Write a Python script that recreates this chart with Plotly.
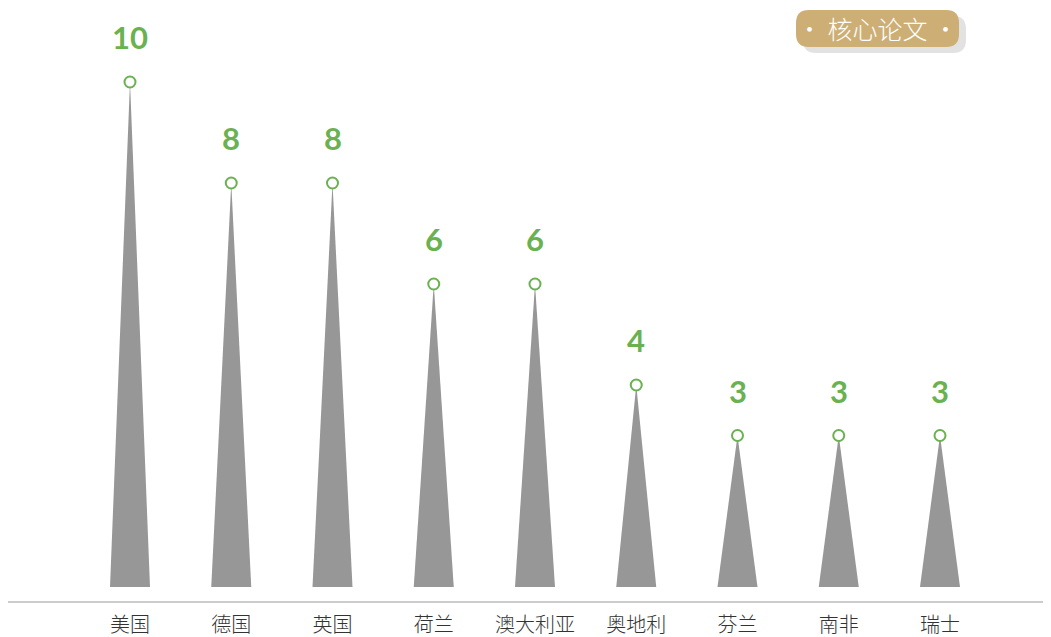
import plotly.graph_objects as go

categories = ["美国", "德国", "英国", "荷兰", "澳大利亚", "奥地利", "芬兰", "南非", "瑞士"]
values = [10, 8, 8, 6, 6, 4, 3, 3, 3]
badge_text = "· 核心论文 ·"

GREEN = "#6ab150"
GRAY = "#979797"
TAN = "#cdae75"

OFF = 8  # page body margin offset
W, H = 1051 - OFF, 637 - OFF
# target page pixels: plot left 8, right 1050, axis line 601
ML = 8 - OFF
MR = W - (1050 - OFF)
MT = 0
MB = H - (601 - OFF)
pw, ph = W - ML - MR, H - MT - MB
x_unit = 101.25
y_unit = 50.5
x_range = [-122 / x_unit, -122 / x_unit + pw / x_unit]
y_range = [-14 / y_unit, -14 / y_unit + ph / y_unit]
half_w = 20 / x_unit

fig = go.Figure()
for i, v in enumerate(values):
    fig.add_trace(go.Scatter(
        x=[i - half_w, i, i + half_w, i - half_w],
        y=[0, v, 0, 0],
        mode="lines", fill="toself", fillcolor=GRAY,
        line=dict(width=0, color=GRAY), hoverinfo="skip", showlegend=False))

fig.add_trace(go.Scatter(
    x=list(range(len(values))), y=values, mode="markers",
    marker=dict(symbol="circle", size=11, color="white",
                line=dict(color=GREEN, width=2)),
    showlegend=False, hoverinfo="skip"))

for i, v in enumerate(values):
    fig.add_annotation(x=i, y=v, text=f"<b>{v}</b>", showarrow=False,
                       yshift=45, font=dict(family="Lato, Open Sans, sans-serif",
                                            size=31, color=GREEN))


def px2paper(px, py):
    # px, py are page pixels
    fx, fy = px - OFF, py - OFF
    return (fx - ML) / pw, (H - MB - fy) / ph


def rounded_rect(x0, y0, x1, y1, r):
    def P(x, y):
        a, b = px2paper(x, y)
        return f"{a:.5f},{b:.5f}"
    return (f"M {P(x0 + r, y0)} L {P(x1 - r, y0)} "
            f"Q {P(x1, y0)} {P(x1, y0 + r)} L {P(x1, y1 - r)} "
            f"Q {P(x1, y1)} {P(x1 - r, y1)} L {P(x0 + r, y1)} "
            f"Q {P(x0, y1)} {P(x0, y1 - r)} L {P(x0, y0 + r)} "
            f"Q {P(x0, y0)} {P(x0 + r, y0)} Z")


fig.add_shape(type="path", xref="paper", yref="paper",
              path=rounded_rect(803, 16, 966, 53, 13),
              fillcolor="#e2e2e2", line=dict(width=0))
fig.add_shape(type="path", xref="paper", yref="paper",
              path=rounded_rect(796, 10, 959, 47, 13),
              fillcolor=TAN, line=dict(width=0))
bx, by = px2paper(877, 28.5)
fig.add_annotation(x=bx, y=by, xref="paper", yref="paper", text=badge_text,
                   showarrow=False, xanchor="center", yanchor="middle",
                   font=dict(family="Noto Sans CJK SC", size=25, color="white", weight=300))

fig.update_layout(
    width=W, height=H, margin=dict(l=ML, r=MR, t=MT, b=MB),
    paper_bgcolor="white", plot_bgcolor="white",
    xaxis=dict(range=x_range, tickmode="array", tickvals=list(range(len(categories))),
               ticktext=categories, showgrid=False, zeroline=False, automargin=False,
               showline=True, linecolor="#cccccc", linewidth=1.5, ticks="",
               ticklabelstandoff=5,
               tickfont=dict(family="Noto Sans CJK SC", size=20, color="#333333", weight=300)),
    yaxis=dict(range=y_range, showgrid=False, zeroline=False, showticklabels=False,
               showline=False, automargin=False),
)
fig.write_html("out.html")
